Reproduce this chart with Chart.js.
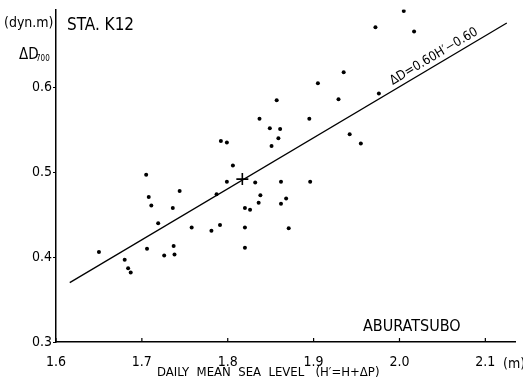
<!DOCTYPE html>
<html>
<head>
<meta charset="utf-8">
<script src="https://cdn.jsdelivr.net/npm/chart.js@4.4.1/dist/chart.umd.min.js"></script>
<style>
  html, body { margin: 0; padding: 0; background: #fff; }
  #wrap { width: 523px; height: 380px; }
</style>
</head>
<body>
<div id="wrap"><canvas id="myChart" width="523" height="380"></canvas></div>
<script>
// daily mean sea level H' (m) vs dynamic depth anomaly (dyn.m)
const obsX = [1.650, 1.680, 1.684, 1.687, 1.705, 1.708, 1.711, 1.706, 1.719, 1.726,
              1.736, 1.737, 1.738, 1.744, 1.758, 1.781, 1.787, 1.791, 1.792, 1.799,
              1.799, 1.806, 1.820, 1.820, 1.820, 1.826, 1.832, 1.836, 1.838, 1.837,
              1.849, 1.851, 1.857, 1.859, 1.861, 1.862, 1.862, 1.868, 1.871, 1.895,
              1.896, 1.905, 1.929, 1.935, 1.942, 1.955, 1.976, 1.972, 2.005, 2.017];
const obsY = [0.406, 0.397, 0.387, 0.382, 0.497, 0.471, 0.461, 0.410, 0.440, 0.402,
              0.458, 0.413, 0.403, 0.478, 0.435, 0.431, 0.474, 0.438, 0.537, 0.535,
              0.489, 0.508, 0.458, 0.435, 0.411, 0.456, 0.488, 0.464, 0.473, 0.563,
              0.552, 0.531, 0.585, 0.540, 0.551, 0.489, 0.463, 0.469, 0.434, 0.563,
              0.489, 0.605, 0.586, 0.618, 0.545, 0.534, 0.593, 0.671, 0.690, 0.666];

// mean point (+)
const meanX = [1.817];
const meanY = [0.492];

// regression line  ΔD = 0.60H' - 0.60
const lineX = [1.616, 2.125];
const lineY = [0.370, 0.676];

const xTicks = [1.6, 1.7, 1.8, 1.9, 2.0, 2.1];
const yTicks = [0.3, 0.4, 0.5, 0.6];

const FONT = "'Liberation Sans Narrow', 'DejaVu Sans Condensed', sans-serif";

const toPts = (xs, ys) => xs.map((x, i) => ({ x: x, y: ys[i] }));

const textPlugin = {
  id: "texts",
  afterDraw(chart) {
    const c = chart.ctx;
    const xs = chart.scales.x, ys = chart.scales.y;
    const bottom = chart.chartArea.bottom;
    c.save();
    c.fillStyle = "#000";
    c.strokeStyle = "#000";

    // inward ticks on x axis
    c.lineWidth = 1.2;
    xTicks.forEach(v => {
      const px = xs.getPixelForValue(v);
      c.beginPath();
      c.moveTo(px, bottom);
      c.lineTo(px, bottom - 4);
      c.stroke();
    });

    c.textBaseline = "alphabetic";
    c.textAlign = "left";
    c.font = "17px " + FONT;
    c.fillText("STA. K12", 67, 30);
    c.font = "14px " + FONT;
    c.fillText("(dyn.m)", 4, 27);
    c.font = "15px " + FONT;
    c.fillText("ΔD", 19, 59);
    c.font = "8px " + FONT;
    c.fillText("700", 36, 61);

    c.font = "16px " + FONT;
    c.fillText("ABURATSUBO", 363, 331);

    c.font = "13px " + FONT;
    c.fillText("DAILY  MEAN  SEA  LEVEL   (H\u2032=H+ΔP)", 157, 376);
    c.font = "14px " + FONT;
    c.fillText("(m)", 503, 368);

    // equation along the regression line
    const ex = 1.993;
    const ey = lineY[0] + (ex - lineX[0]) * (lineY[1] - lineY[0]) / (lineX[1] - lineX[0]);
    const p0x = xs.getPixelForValue(lineX[0]), p0y = ys.getPixelForValue(lineY[0]);
    const p1x = xs.getPixelForValue(lineX[1]), p1y = ys.getPixelForValue(lineY[1]);
    const ang = Math.atan2(p1y - p0y, p1x - p0x);
    c.translate(xs.getPixelForValue(ex), ys.getPixelForValue(ey));
    c.rotate(ang);
    c.font = "13px " + FONT;
    c.fillText("ΔD=0.60H\u2032\u22120.60", 2, -5);
    c.restore();
  }
};

const ctx = document.getElementById("myChart");
let mychart = new Chart(ctx, {
  type: "scatter",
  data: {
    datasets: [
      {
        label: "obs",
        data: toPts(obsX, obsY),
        pointStyle: "circle",
        pointRadius: 2,
        backgroundColor: "#000",
        borderColor: "#000",
        borderWidth: 0,
      },
      {
        label: "mean",
        data: toPts(meanX, meanY),
        pointStyle: "cross",
        pointRadius: 6,
        borderColor: "#000",
        borderWidth: 1.6,
      },
      {
        type: "line",
        label: "regression",
        data: toPts(lineX, lineY),
        showLine: true,
        pointRadius: 0,
        borderColor: "#000",
        borderWidth: 1.3,
        fill: false,
      },
    ],
  },
  options: {
    responsive: false,
    animation: false,
    devicePixelRatio: 1,
    layout: { padding: 0 },
    plugins: {
      legend: { display: false },
      tooltip: { enabled: false },
    },
    scales: {
      x: {
        type: "linear",
        min: 1.6,
        max: 2.135,
        afterBuildTicks: (s) => { s.ticks = xTicks.map(v => ({ value: v })); },
        afterFit: (s) => { s.height = 38; },
        border: { display: true, color: "#000", width: 1.5 },
        grid: { display: true, drawOnChartArea: false, drawTicks: false },
        ticks: {
          color: "#000",
          padding: 12,
          maxRotation: 0,
          font: { family: FONT, size: 14 },
          callback: (v) => v.toFixed(1),
        },
      },
      y: {
        type: "linear",
        min: 0.3,
        max: 0.692,
        afterBuildTicks: (s) => { s.ticks = yTicks.map(v => ({ value: v })); },
        afterFit: (s) => { s.width = 56; },
        border: { display: true, color: "#000", width: 1.5 },
        grid: { display: true, drawOnChartArea: false, drawTicks: true, tickLength: 3, color: "#000", tickWidth: 1.2 },
        ticks: {
          color: "#000",
          padding: 1,
          font: { family: FONT, size: 14 },
          callback: (v) => v.toFixed(1),
        },
      },
    },
  },
  plugins: [textPlugin],
});
</script>
</body>
</html>
